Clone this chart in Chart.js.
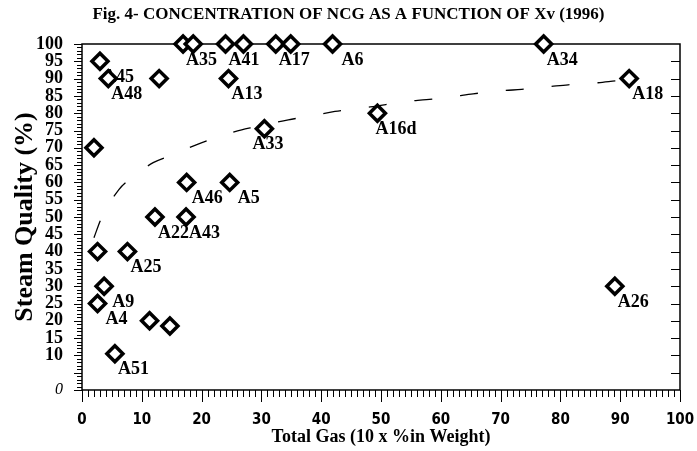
<!DOCTYPE html>
<html><head><meta charset="utf-8">
<script src="https://cdn.jsdelivr.net/npm/chart.js@4"></script>
<style>html,body{margin:0;padding:0;background:#fff}#wrap{width:697px;height:451px}</style>
</head><body><div id="wrap"><canvas id="c" width="697" height="451"></canvas></div>
<script>
// ---- data ----
const wellLabels   = ['A35','',  'A41','',  'A17','',  'A6', 'A34','A18','A16d','A26','A45','A48','',  'A13','A33','',  'A46','A5', 'A22','A43','',  'A25','A9', 'A4', '',  '',  'A51'];
const totalGas     = [16.9, 18.6, 24.0, 27.0, 32.4, 34.9, 41.9, 77.2, 91.5, 49.4, 89.1, 3.0,  4.4,  12.9, 24.5, 30.5, 2.0,  17.5, 24.7, 12.2, 17.4, 2.6,  7.6,  3.7,  2.6,  11.3, 14.7, 5.5];
const steamQuality = [100,  100,  100,  100,  100,  100,  100,  100,  90,   80,   30,   95,   90,   90,   90,   75.5, 70,   60,   60,   50,   50,   40,   40,   30,   25,   20,   18.5, 10.5];
// dashed trend curve, points read along the drawn dashes
const curveGas     = [2.0, 3.2, 6.2, 7.9, 11.9, 14.7, 19.2, 22.2, 26.7, 28.9, 34.5, 37.7, 42.3, 48.2, 54.3, 57.6, 62.0, 65.4, 70.4, 73.5, 78.3, 81.3, 86.3, 89.6, 91.0];
const curveQuality = [44.0, 49.5, 58.0, 60.8, 65.7, 67.7, 70.9, 72.8, 75.2, 76.0, 78.1, 79.0, 80.5, 81.8, 83.4, 83.9, 84.8, 85.6, 86.5, 86.9, 87.7, 88.2, 88.8, 89.4, 89.6];
const yTickHidden = [5];

const labelDx = {A6:9, A5:8, A9:8, A4:8, A33:-12, A16d:-2, A46:5};

const serif = "'Liberation Serif', 'Times New Roman', serif";
const narrow = "'Liberation Sans Narrow', 'DejaVu Sans Condensed', 'Liberation Sans', sans-serif";

const framePlugin = {
  id: 'frame',
  beforeDatasetsDraw(chart) {
    const {ctx, chartArea: a, scales: {x, y}} = chart;
    ctx.save();
    ctx.strokeStyle = '#000';
    ctx.lineWidth = 1.5;
    ctx.beginPath();
    ctx.moveTo(a.left, a.top); ctx.lineTo(a.right, a.top);
    ctx.lineTo(a.right, a.bottom); ctx.lineTo(a.left, a.bottom); ctx.closePath();
    ctx.stroke();
    ctx.lineWidth = 1;
    ctx.beginPath();
    for (let v = 0; v <= 100; v++) {
      const px = Math.round(x.getPixelForValue(v)) + 0.5;
      const lx = v % 10 === 0 ? 12 : 7;
      ctx.moveTo(px, a.bottom); ctx.lineTo(px, a.bottom + lx);
      const py = Math.round(y.getPixelForValue(v)) + 0.5;
      const ly = v % 5 === 0 ? 8 : 5;
      ctx.moveTo(a.left - ly, py); ctx.lineTo(a.left, py);
      if (v % 5 === 0 && v > 0 && v < 100) { ctx.moveTo(a.right - 9, py); ctx.lineTo(a.right, py); }
    }
    ctx.stroke();
    // point labels
    const meta = chart.getDatasetMeta(1);
    ctx.fillStyle = '#000';
    ctx.font = 'bold 18px ' + serif;
    ctx.textAlign = 'left';
    ctx.textBaseline = 'middle';
    meta.data.forEach((pt, i) => {
      const t = wellLabels[i];
      if (!t) return;
      const dx = labelDx[t] !== undefined ? labelDx[t] : 3;
      ctx.fillText(t, pt.x + dx, pt.y + 16);
    });
    ctx.restore();
  }
};

new Chart(document.getElementById('c'), {
  type: 'scatter',
  data: {
    datasets: [
      {
        type: 'line',
        data: curveGas.map((g, i) => ({x: g, y: curveQuality[i]})),
        borderColor: '#000',
        borderWidth: 1.3,
        borderDash: [18, 28],
        pointRadius: 0,
        fill: false,
        cubicInterpolationMode: 'monotone',
        order: 2
      },
      {
        data: totalGas.map((g, i) => ({x: g, y: steamQuality[i]})),
        pointStyle: 'rectRot',
        pointRadius: 8,
        pointBorderWidth: 3.5,
        pointBackgroundColor: '#fff',
        pointBorderColor: '#000',
        clip: false,
        order: 1
      }
    ]
  },
  options: {
    responsive: false,
    animation: false,
    layout: {padding: {top: 0, right: 0, bottom: 0, left: 0}},
    plugins: {
      legend: {display: false},
      tooltip: {enabled: false},
      title: {
        display: true,
        text: 'Fig. 4- CONCENTRATION OF NCG AS A FUNCTION OF Xv (1996)',
        color: '#000',
        font: {family: serif, size: 17, weight: 'bold'},
        padding: {top: 4, bottom: 19.6}
      }
    },
    scales: {
      x: {
        type: 'linear', min: 0, max: 100,
        afterFit: s => { s.height = 61; s.paddingRight = 17; s.paddingLeft = 0; },
        grid: {display: false, drawTicks: false},
        border: {display: false},
        ticks: {stepSize: 10, padding: 21, color: '#000', font: {family: narrow, size: 15, weight: 'bold'}},
        title: {display: true, text: 'Total Gas (10 x %in Weight)', color: '#000',
                font: {family: serif, size: 18, weight: 'bold'}, padding: {top: 0, bottom: 3}}
      },
      y: {
        type: 'linear', min: 0, max: 100,
        afterFit: s => { s.width = 82; },
        grid: {display: false, drawTicks: false},
        border: {display: false},
        ticks: {
          stepSize: 5, autoSkip: false, padding: 19, color: '#000',
          callback: v => yTickHidden.includes(v) ? '' : String(v),
          font: ctx => (ctx.tick && ctx.tick.value === 0)
            ? {family: serif, size: 16, style: 'italic', weight: 'normal'}
            : {family: serif, size: 18, weight: 'bold'}
        },
        title: {display: true, text: 'Steam Quality (%)', color: '#000',
                font: {family: serif, size: 26, weight: 'bold'}, padding: {top: 10, bottom: 0}}
      }
    }
  },
  plugins: [framePlugin]
});
</script>
</body></html>
